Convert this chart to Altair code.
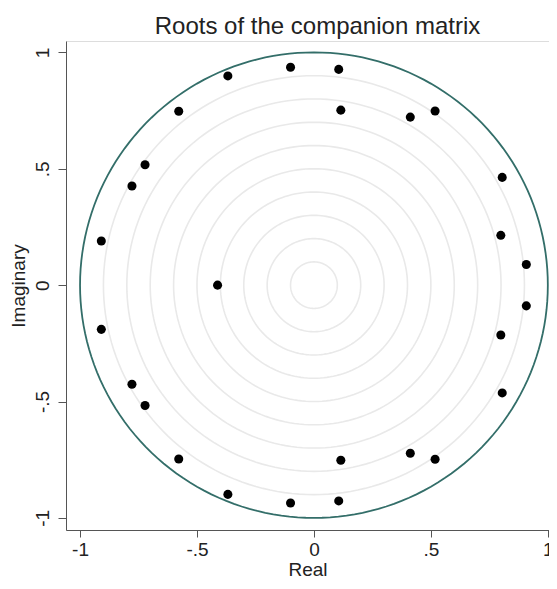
import altair as alt
import numpy as np
import pandas as pd

# Eigenvalues (roots of the companion matrix)
re_upper = [-0.368, -0.578, -0.722, -0.778, -0.909, -0.100, 0.106, 0.115, 0.412, 0.518, 0.805, 0.799, 0.908]
im_upper = [0.899, 0.747, 0.517, 0.426, 0.190, 0.936, 0.927, 0.752, 0.722, 0.748, 0.463, 0.214, 0.089]
re_real = [-0.412]
im_real = [0.0]

tick_values = [-1, -0.5, 0, 0.5, 1]
grid_radii = [0.1, 0.2, 0.3, 0.4, 0.5, 0.6, 0.7, 0.8, 0.9]
unit_radius = [1.0]

roots = pd.DataFrame({
    "Real": re_upper + re_upper + re_real,
    "Imaginary": im_upper + [-v for v in im_upper] + im_real,
})

angles = np.arange(0, 362, 2)


def circles(radii):
    rows = []
    for r in radii:
        for i, a in enumerate(angles):
            t = np.deg2rad(a)
            rows.append({"r": r, "i": i, "cx": r * np.cos(t), "cy": r * np.sin(t)})
    return pd.DataFrame(rows)


xscale = alt.Scale(domain=[-1.06, 1.005], nice=False, zero=False)
yscale = alt.Scale(domain=[-1.052, 1.049], nice=False, zero=False)

lbl = "datum.value == 0 ? '0' : replace(toString(datum.value), '0.', '.')"

xaxis = alt.Axis(values=tick_values, labelExpr=lbl, grid=False, title="Real",
                 tickSize=7, labelPadding=3, titlePadding=1,
                 labelFontSize=19, titleFontSize=19, titleFontWeight="normal",
                 labelFont="Liberation Sans", titleFont="Liberation Sans",
                 domainColor="#555555", tickColor="#555555", labelColor="#222222", titleColor="#222222")
yaxis = alt.Axis(values=tick_values, labelExpr=lbl, grid=False, title="Imaginary",
                 tickSize=8, labelPadding=6, titlePadding=5, labelAngle=-90,
                 labelAlign="center", labelBaseline="bottom",
                 labelFontSize=19, titleFontSize=19, titleFontWeight="normal",
                 labelFont="Liberation Sans", titleFont="Liberation Sans",
                 domainColor="#555555", tickColor="#555555", labelColor="#222222", titleColor="#222222")

grid = alt.Chart(circles(grid_radii)).mark_line(color="#e9e9e9", strokeWidth=1.6).encode(
    x=alt.X("cx:Q", scale=xscale, axis=xaxis),
    y=alt.Y("cy:Q", scale=yscale, axis=yaxis),
    detail="r:N",
    order="i:Q",
)

unit = alt.Chart(circles(unit_radius)).mark_line(color="#336e69", strokeWidth=1.8).encode(
    x=alt.X("cx:Q", scale=xscale),
    y=alt.Y("cy:Q", scale=yscale),
    detail="r:N",
    order="i:Q",
)

pts = alt.Chart(roots).mark_circle(color="black", size=82, opacity=1).encode(
    x=alt.X("Real:Q", scale=xscale),
    y=alt.Y("Imaginary:Q", scale=yscale),
)

chart = alt.layer(grid, unit, pts).properties(
    width=483,
    height=489,
    title=alt.TitleParams("Roots of the companion matrix", fontSize=24, font="Liberation Sans",
                          fontWeight="normal", color="#222222", anchor="middle", offset=2, dx=10),
    autosize=alt.AutoSizeParams(type="none"),
    padding={"left": 58, "top": 33, "right": 0, "bottom": 51},
).configure_view(stroke=None).configure(background="white")

chart.save("out.html", embed_options={"renderer": "svg", "actions": False})
